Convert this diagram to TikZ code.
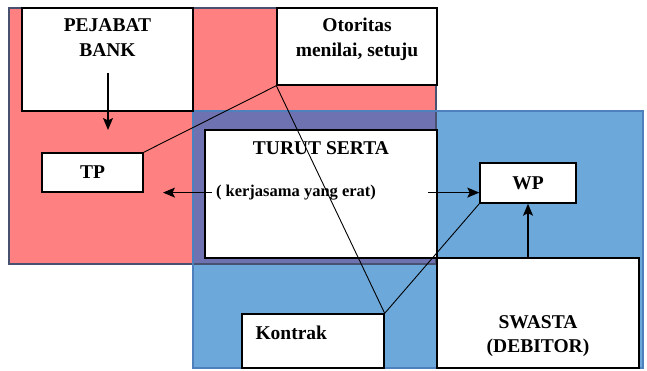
\documentclass[tikz,border=0pt]{standalone}
\usepackage{fontspec}
\setmainfont{Liberation Serif}
\usetikzlibrary{positioning, arrows.meta, calc}
\definecolor{bankred}{RGB}{255,128,128}
\definecolor{swastablue}{RGB}{108,168,218}
\definecolor{mixblue}{RGB}{110,114,176}
\definecolor{redrim}{RGB}{72,82,112}
\definecolor{bluerim}{RGB}{78,128,190}
\tikzset{>={Stealth[length=12pt, width=10pt, inset=2.5pt]}}
\tikzset{box/.style={draw=black, fill=white, line width=1.4pt, inner sep=0pt}}
\tikzset{lab/.style={font=\bfseries\fontsize{19.5}{24.5}\selectfont, align=center, inner sep=0pt}}
\tikzset{link/.style={draw=black, line width=0.9pt}}
\tikzset{flow/.style={->, line width=1.2pt}}

\begin{document}
\begin{tikzpicture}[x=1pt, y=1pt]
		\useasboundingbox (0,0) rectangle (647,370);
		\fill[bankred] (9,106) rectangle (436,362);
		\fill[swastablue] (193,2) rectangle (643,259);
		\fill[mixblue] (193,106) rectangle (436,259);
		\draw[redrim, line width=1.6pt] (9,106) rectangle (436,362);
		\draw[bluerim, line width=1.6pt] (193,2) rectangle (643,259);

		\node[box, minimum width=171pt, minimum height=103pt] (bank) at (107.5, 310.5) {};
		\node[box, minimum width=160pt, minimum height=77pt] (auth) at (357, 323.5) {};
		\node[box, minimum width=101pt, minimum height=39pt, lab] (tp) at (92.5, 197.5) {TP};
		\node[box, minimum width=232pt, minimum height=128pt] (coop) at (321, 176) {};
		\node[box, minimum width=96pt, minimum height=40pt, lab] (wp) at (528, 187) {WP};
		\node[box, minimum width=202pt, minimum height=110pt] (debtor) at (538, 57) {};
		\node[box, minimum width=142pt, minimum height=54pt] (contract) at (313, 29) {};

		\begin{scope}[every node/.append style={lab}]
			\node[below=11.5pt of bank.north] (banktext) {PEJABAT\\BANK};
			\node[below=10.5pt of auth.north] (authtext) {Otoritas\\menilai, setuju};
			\node[below=11.8pt of coop.north] (cooptitle) {TURUT SERTA};
			\node[font=\bfseries\fontsize{16.5}{19}\selectfont] (coopnote) at (296, 177.4) {( kerjasama yang erat)};
			\node[above=11.5pt of debtor.south] (debtortext) {SWASTA\\(DEBITOR)};
			\node[anchor=base west] (contracttext) at ($(contract.west)+(14,2)$) {Kontrak};
		\end{scope}

		\coordinate (bankfoot) at (108, 297);
		\coordinate (tphead) at (108, 240);
		\coordinate (leftfrom) at (212, 177.4);
		\coordinate (lefttip) at (163, 177.4);
		\coordinate (rightfrom) at (428, 177.4);

		\draw[flow] (bankfoot) -- (tphead);
		\draw[flow] (leftfrom) -- (lefttip);
		\draw[flow] (rightfrom) -- (wp.west |- rightfrom);
		\draw[flow] (wp.south |- debtor.north) -- (wp.south);
		\draw[link] (auth.south west) -- (tp.north east) (auth.south west) -- (contract.north east) -- (wp.south west);
	\end{tikzpicture}
\end{document}
